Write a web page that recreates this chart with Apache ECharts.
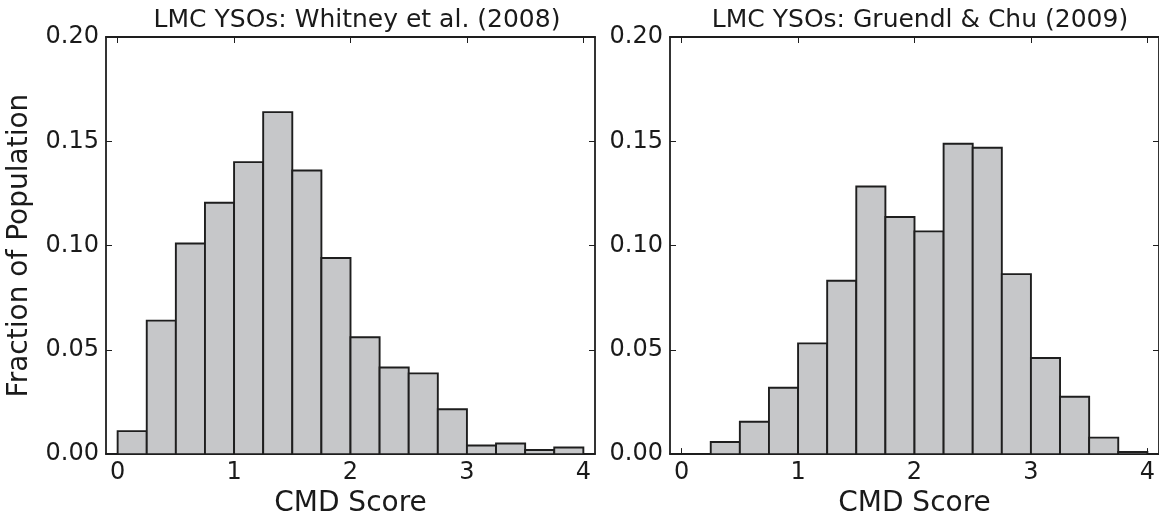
<!DOCTYPE html>
<html>
<head>
<meta charset="utf-8">
<script src="https://cdn.jsdelivr.net/npm/echarts@6/dist/echarts.min.js"></script>
<style>
  html, body { margin: 0; padding: 0; background: #fff; }
  #main { width: 1159px; height: 523px; }
</style>
</head>
<body>
<div id="main"></div>
<script>
// histogram bin edges (CMD score)
var binEdges = [0, 0.25, 0.5, 0.75, 1, 1.25, 1.5, 1.75, 2, 2.25, 2.5, 2.75, 3, 3.25, 3.5, 3.75, 4];
var xTicks = [0, 1, 2, 3, 4];
// fraction of population per bin
var whitney = [0.011, 0.064, 0.101, 0.1205, 0.140, 0.164, 0.136, 0.094, 0.056, 0.0415, 0.0387, 0.0215, 0.0041, 0.0051, 0.002, 0.0032];
var gruendl = [0, 0.0058, 0.0155, 0.0318, 0.0531, 0.0831, 0.1283, 0.1137, 0.1068, 0.1488, 0.1469, 0.0863, 0.0461, 0.0275, 0.0079, 0.001];
var titles = ['LMC YSOs: Whitney et al. (2008)', 'LMC YSOs: Gruendl & Chu (2009)'];

var font = 'DejaVu Sans';
var ink = '#1e1e1e';

function toBins(vals) {
    var out = [];
    for (var i = 0; i < vals.length; i++) {
        out.push([binEdges[i], binEdges[i + 1], vals[i]]);
    }
    return out;
}

function renderBar(params, api) {
    var a = api.coord([api.value(0), api.value(2)]);
    var b = api.coord([api.value(1), 0]);
    return {
        type: 'rect',
        shape: { x: a[0], y: a[1], width: b[0] - a[0], height: b[1] - a[1] },
        style: { fill: '#c6c7c9', stroke: ink, lineWidth: 1.9 }
    };
}

function xAxis(grid, pos) {
    return {
        type: 'value', gridIndex: grid, position: pos,
        min: -0.1, max: 4.1,
        axisLine: { show: true, onZero: false, lineStyle: { color: ink, width: 1.8 } },
        axisTick: { show: true, inside: true, length: 6, customValues: xTicks, lineStyle: { color: ink, width: 1 } },
        axisLabel: pos === 'bottom' ? {
            show: true, customValues: xTicks, color: '#1a1a1a', fontFamily: font, fontSize: 24, margin: 7
        } : { show: false },
        splitLine: { show: false },
        name: pos === 'bottom' ? 'CMD Score' : '',
        nameLocation: 'middle', nameGap: 35,
        nameTextStyle: { color: '#1a1a1a', fontFamily: font, fontSize: 28 }
    };
}

function yAxis(grid, pos, withName) {
    return {
        type: 'value', gridIndex: grid, position: pos,
        min: 0, max: 0.2, interval: 0.05,
        axisLine: { show: true, onZero: false, lineStyle: { color: ink, width: 1.8 } },
        axisTick: { show: true, inside: true, length: 6, lineStyle: { color: ink, width: 1 } },
        axisLabel: pos === 'left' ? {
            show: true, color: '#1a1a1a', fontFamily: font, fontSize: 24, margin: 7,
            formatter: function (v) { return v.toFixed(2); }
        } : { show: false },
        splitLine: { show: false },
        name: withName ? 'Fraction of Population' : '',
        nameLocation: 'middle', nameGap: 72,
        nameTextStyle: { color: '#1a1a1a', fontFamily: font, fontSize: 28 }
    };
}

var myChart = echarts.init(document.getElementById('main'), null, { renderer: 'canvas' });
var option = {
    backgroundColor: '#fff',
    animation: false,
    title: [
        { text: titles[0], left: 352, top: 3, textAlign: 'center',
          textStyle: { fontFamily: font, fontSize: 25, fontWeight: 'normal', color: '#1a1a1a' } },
        { text: titles[1], left: 915, top: 3, textAlign: 'center',
          textStyle: { fontFamily: font, fontSize: 25, fontWeight: 'normal', color: '#1a1a1a' } }
    ],
    grid: [
        { left: 106, width: 489, top: 37, height: 423 },
        { left: 670, width: 491, top: 37, height: 423 }
    ],
    xAxis: [xAxis(0, 'bottom'), xAxis(0, 'top'), xAxis(1, 'bottom'), xAxis(1, 'top')],
    yAxis: [yAxis(0, 'left', true), yAxis(0, 'right', false), yAxis(1, 'left', false), yAxis(1, 'right', false)],
    series: [
        { type: 'custom', xAxisIndex: 0, yAxisIndex: 0, data: toBins(whitney), renderItem: renderBar, z: 1 },
        { type: 'custom', xAxisIndex: 2, yAxisIndex: 2, data: toBins(gruendl), renderItem: renderBar, z: 1 }
    ]
};
myChart.setOption(option);
</script>
</body>
</html>
